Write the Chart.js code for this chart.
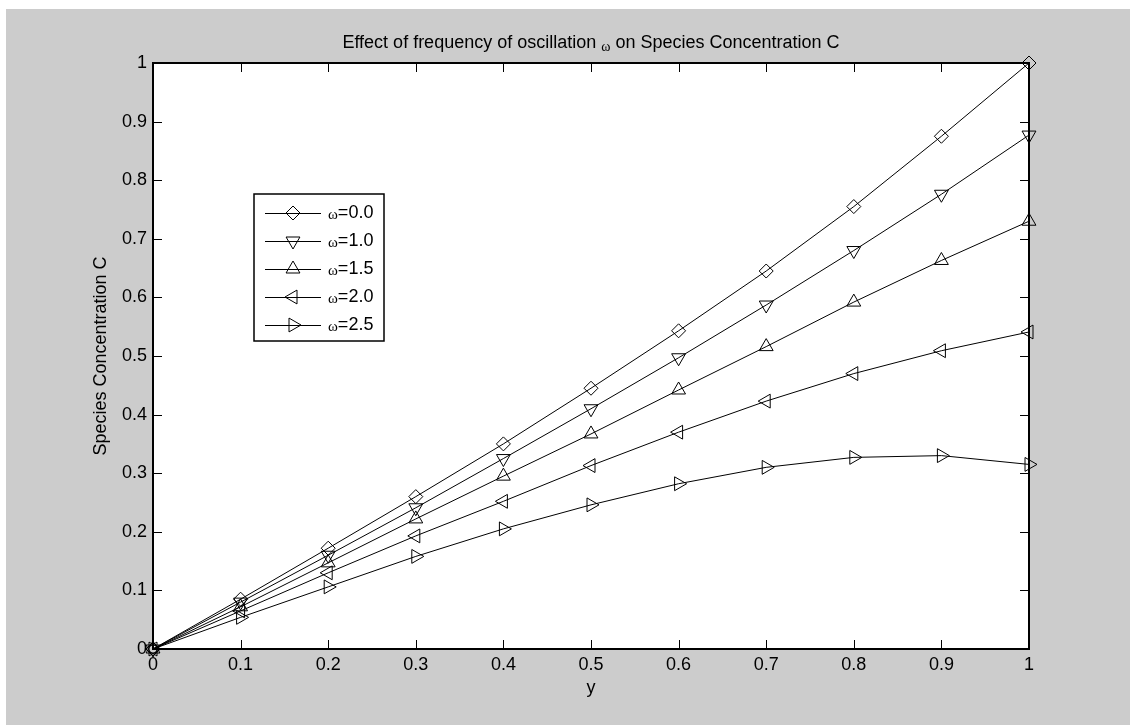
<!DOCTYPE html>
<html>
<head>
<meta charset="utf-8">
<script src="https://cdn.jsdelivr.net/npm/chart.js@4.4.1/dist/chart.umd.min.js"></script>
<style>
    html, body { margin: 0; padding: 0; background: #fff; }
    #wrap { position: relative; width: 1130px; height: 725px; }
</style>
</head>
<body>
<div id="wrap"><canvas id="chart" width="1130" height="725"></canvas></div>
<script>
// Data
const yPositions = [0, 0.1, 0.2, 0.3, 0.4, 0.5, 0.6, 0.7, 0.8, 0.9, 1.0];
const omega00 = [0, 0.085, 0.172, 0.260, 0.350, 0.445, 0.543, 0.645, 0.755, 0.875, 1.000];
const omega10 = [0, 0.080, 0.160, 0.241, 0.325, 0.410, 0.497, 0.587, 0.680, 0.776, 0.877];
const omega15 = [0, 0.072, 0.147, 0.222, 0.295, 0.367, 0.442, 0.516, 0.592, 0.663, 0.730];
const omega20 = [0, 0.065, 0.130, 0.193, 0.252, 0.313, 0.370, 0.423, 0.470, 0.509, 0.541];
const omega25 = [0, 0.054, 0.106, 0.158, 0.205, 0.246, 0.282, 0.310, 0.327, 0.330, 0.315];
const seriesLabels = ['0.0', '1.0', '1.5', '2.0', '2.5'];
const tickValues = [0, 0.1, 0.2, 0.3, 0.4, 0.5, 0.6, 0.7, 0.8, 0.9, 1];

const FONT = 'Liberation Sans, Arial, sans-serif';
const FS = 18;

// marker styles, MATLAB-ish: diamond, v, ^, <, >
const markers = [
    { style: 'rectRot', radius: 7, rotation: 0 },
    { style: 'triangle', radius: 8, rotation: 180 },
    { style: 'triangle', radius: 8, rotation: 0 },
    { style: 'triangle', radius: 8, rotation: 270 },
    { style: 'triangle', radius: 8, rotation: 90 }
];

const allSeries = [omega00, omega10, omega15, omega20, omega25];

const datasets = allSeries.map((vals, i) => ({
    label: '\u03c9=' + seriesLabels[i],
    data: vals.map((v, j) => ({ x: yPositions[j], y: v })),
    borderColor: '#000',
    borderWidth: 1,
    backgroundColor: 'transparent',
    pointStyle: markers[i].style,
    pointRadius: markers[i].radius,
    pointRotation: markers[i].rotation,
    pointBorderColor: '#000',
    pointBackgroundColor: 'transparent',
    pointBorderWidth: 1,
    tension: 0,
    clip: false
}));

// background, axes box, inward ticks, title and legend
const matlabFrame = {
    id: 'matlabFrame',
    beforeDraw(chart) {
        const { ctx, chartArea: a } = chart;
        ctx.save();
        ctx.fillStyle = '#fff';
        ctx.fillRect(0, 0, chart.width, chart.height);
        ctx.fillStyle = '#cccccc';
        ctx.fillRect(6, 9, chart.width - 6, chart.height - 9);
        ctx.fillStyle = '#fff';
        ctx.fillRect(a.left, a.top, a.right - a.left, a.bottom - a.top);
        ctx.restore();
    },
    beforeDatasetsDraw(chart) {
        const { ctx, chartArea: a, scales } = chart;
        ctx.save();
        ctx.strokeStyle = '#000';
        ctx.lineWidth = 1;
        const tl = 9;
        ctx.beginPath();
        tickValues.forEach(v => {
            const px = Math.round(scales.x.getPixelForValue(v)) + 0.5;
            ctx.moveTo(px, a.bottom); ctx.lineTo(px, a.bottom - tl);
            ctx.moveTo(px, a.top); ctx.lineTo(px, a.top + tl);
            const py = Math.round(scales.y.getPixelForValue(v)) + 0.5;
            ctx.moveTo(a.left, py); ctx.lineTo(a.left + tl, py);
            ctx.moveTo(a.right, py); ctx.lineTo(a.right - tl, py);
        });
        ctx.stroke();
        ctx.lineWidth = 2;
        ctx.strokeRect(a.left, a.top, a.right - a.left, a.bottom - a.top);
        ctx.restore();
    },
    afterDatasetsDraw(chart) {
        const { ctx, chartArea: a } = chart;
        ctx.save();

        // title
        const parts = [
            { t: 'Effect of frequency of oscillation ', f: FS + 'px ' + FONT, dy: 0 },
            { t: '\u03c9', f: '14px Liberation Serif, serif', dy: 3 },
            { t: ' on Species Concentration C', f: FS + 'px ' + FONT, dy: 0 }
        ];
        let total = 0;
        parts.forEach(p => { ctx.font = p.f; p.w = ctx.measureText(p.t).width; total += p.w; });
        let tx = (a.left + a.right) / 2 - total / 2;
        ctx.fillStyle = '#000';
        ctx.textBaseline = 'alphabetic';
        ctx.textAlign = 'left';
        parts.forEach(p => { ctx.font = p.f; ctx.fillText(p.t, tx, 48 + p.dy); tx += p.w; });

        // legend
        const box = { x: 254, y: 194, w: 130, h: 147 };
        ctx.fillStyle = '#fff';
        ctx.fillRect(box.x, box.y, box.w, box.h);
        ctx.strokeStyle = '#000';
        ctx.lineWidth = 1.5;
        ctx.strokeRect(box.x, box.y, box.w, box.h);
        seriesLabels.forEach((lab, i) => {
            const ly = box.y + 19 + i * 28;
            ctx.lineWidth = 1;
            ctx.strokeStyle = '#000';
            ctx.beginPath();
            ctx.moveTo(box.x + 11, ly + 0.5);
            ctx.lineTo(box.x + 67, ly + 0.5);
            ctx.stroke();
            ctx.fillStyle = 'rgba(0,0,0,0)';
            Chart.helpers.drawPoint(ctx, {
                pointStyle: markers[i].style,
                radius: markers[i].radius,
                rotation: markers[i].rotation,
                borderWidth: 1
            }, box.x + 39, ly);
            ctx.fillStyle = '#000';
            ctx.textBaseline = 'middle';
            ctx.font = '15px Liberation Serif, serif';
            ctx.fillText('\u03c9', box.x + 74, ly + 2);
            const ow = ctx.measureText('\u03c9').width;
            ctx.font = FS + 'px ' + FONT;
            ctx.fillText('=' + lab, box.x + 74 + ow, ly);
        });
        ctx.restore();
    }
};

const tickFmt = v => String(+v.toFixed(1));

new Chart(document.getElementById('chart'), {
    type: 'line',
    data: { datasets },
    options: {
        responsive: false,
        animation: false,
        devicePixelRatio: 1,
        layout: { padding: { left: 90, top: 63, right: 101, bottom: 26 } },
        plugins: {
            legend: { display: false },
            title: { display: false },
            tooltip: { enabled: false }
        },
        scales: {
            x: {
                type: 'linear',
                min: 0,
                max: 1,
                grid: { display: false, drawTicks: false },
                border: { display: false },
                afterFit: s => { s.height = 50; },
                afterBuildTicks: s => { s.ticks = tickValues.map(v => ({ value: v })); },
                ticks: { color: '#000', padding: 5, maxRotation: 0, font: { family: FONT, size: FS }, callback: tickFmt },
                title: { display: true, text: 'y', color: '#000', padding: 0, font: { family: FONT, size: FS } }
            },
            y: {
                type: 'linear',
                min: 0,
                max: 1,
                grid: { display: false, drawTicks: false },
                border: { display: false },
                afterFit: s => { s.width = 63; },
                afterBuildTicks: s => { s.ticks = tickValues.map(v => ({ value: v })); },
                ticks: { color: '#000', padding: 6, font: { family: FONT, size: FS }, callback: tickFmt },
                title: { display: true, text: 'Species Concentration C', color: '#000', padding: 0, font: { family: FONT, size: FS } }
            }
        }
    },
    plugins: [matlabFrame]
});
</script>
</body>
</html>
